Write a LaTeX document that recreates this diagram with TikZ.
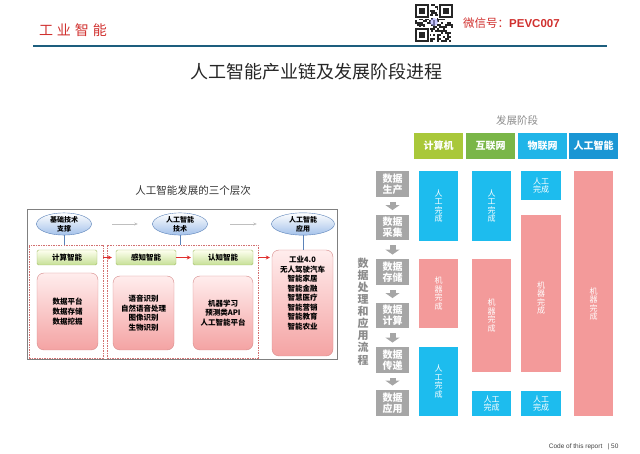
\documentclass[tikz,border=0pt]{standalone}
\usepackage{fontspec}
\setmainfont{Noto Sans CJK SC}
\newfontfamily\latinfont{Liberation Sans}
\usetikzlibrary{arrows.meta,shapes.geometric}

\definecolor{brandred}{HTML}{D0302E}
\definecolor{ruleteal}{HTML}{1D5E7E}
\definecolor{bubbleline}{HTML}{5B82B8}
\definecolor{bubblefill}{HTML}{A3C1EA}
\definecolor{levelline}{HTML}{A3BE68}
\definecolor{levelfill}{HTML}{C6E096}
\definecolor{fieldline}{HTML}{D68A8A}
\definecolor{fieldfill}{HTML}{F4A3A3}
\definecolor{groupline}{HTML}{D27070}
\definecolor{arrowred}{HTML}{E0302E}
\definecolor{flowgray}{HTML}{A6A6A6}
\definecolor{humanblue}{HTML}{1DBCEE}
\definecolor{machinepink}{HTML}{F39A9A}
\definecolor{stagelime}{HTML}{A9C83A}
\definecolor{stagegreen}{HTML}{7AB648}
\definecolor{stagecyan}{HTML}{20B5E8}
\definecolor{stageblue}{HTML}{1A96D4}

\tikzset{
  bubble/.style={ellipse, draw=bubbleline, top color=white, bottom color=bubblefill,
    minimum width=55pt, minimum height=22pt, inner sep=0pt, align=center,
    font=\fontsize{7}{9}\selectfont\bfseries},
  levelbox/.style={draw=levelline, top color=green!4!yellow!6, bottom color=levelfill,
    rounded corners=1.5pt, minimum width=60pt, minimum height=15pt, inner sep=0pt,
    font=\fontsize{7.5}{9}\selectfont\bfseries},
  fieldbox/.style={draw=fieldline, top color=red!7, bottom color=fieldfill,
    rounded corners=7pt, minimum width=61pt, inner sep=0pt, align=center,
    font=\fontsize{7.5}{9.7}\selectfont\bfseries},
  groupbox/.style={draw=groupline, dash pattern=on 1.5pt off 1pt, line width=0.5pt},
  stemline/.style={draw=bubbleline, line width=0.7pt},
  redarrow/.style={draw=arrowred, line width=0.9pt, -{Stealth[length=4pt,width=4pt]}},
  greyarrow/.style={draw=gray!50, line width=0.6pt, -{Stealth[length=3.5pt,width=3pt]}},
  stagehead/.style={minimum width=49pt, minimum height=26pt, inner sep=0pt, text=white,
    font=\fontsize{10}{11}\selectfont\bfseries},
  flowbox/.style={fill=flowgray, text=white, minimum width=33pt, minimum height=25.5pt,
    inner sep=0pt, align=center, font=\fontsize{10}{11}\selectfont\bfseries},
  flowarrow/.style={draw=flowgray, line width=6pt, -{Triangle[width=14pt,length=5pt]},
    shorten <=5pt, shorten >=4.5pt},
  humanbox/.style={fill=humanblue, text=white, minimum width=39.5pt, inner sep=0pt,
    align=center, font=\fontsize{8}{8.6}\selectfont},
  machinebox/.style={fill=machinepink, text=white, minimum width=39.5pt, inner sep=0pt,
    align=center, font=\fontsize{8}{8.6}\selectfont}
}

\begin{document}
\begin{tikzpicture}[x=1pt, y=-1pt]
  \useasboundingbox (0,0) rectangle (640,454);

  % Page header
  \node[text=brandred, font=\fontsize{14}{14}\selectfont] (brand) at (73,30)
    {工\hspace{4pt}业\hspace{4pt}智\hspace{4pt}能};
  \node[anchor=west, inner sep=0pt, text=brandred, font=\fontsize{11.5}{12}\selectfont] (wechat) at (463,23)
    {微信号：{\latinfont\bfseries PEVC007}};
  \draw[ruleteal, line width=2pt] (33,46) -- (607,46);

  % QR code
  \pgfmathsetseed{42}
  \foreach \i in {0,...,18}{
    \foreach \j in {0,...,18}{
      \pgfmathrandominteger{\qrbit}{0}{1}
      \ifnum\qrbit=1 \fill[black!85] (415+2*\i,4+2*\j) rectangle ++(2,2); \fi
    }
  }
  \foreach \qx/\qy in {415/4, 439/4, 415/28}{
    \fill[white] (\qx-1,\qy-1) rectangle ++(16,16);
    \fill[black!85] (\qx,\qy) rectangle ++(14,14);
    \fill[white] (\qx+2,\qy+2) rectangle ++(10,10);
    \fill[black!85] (\qx+4,\qy+4) rectangle ++(6,6);
  }
  \fill[blue!35, opacity=0.6] (434,22) circle (4);

  % Main title
  \node[text=black!85, font=\fontsize{18}{18}\selectfont] (title) at (316.5,72)
    {人工智能产业链及发展阶段进程};

  % Left panel: three levels
  \node[text=black!80, font=\fontsize{10.5}{11}\selectfont] (lefttitle) at (193,191)
    {人工智能发展的三个层次};
  \draw[black!50, line width=0.9pt] (27,209) rectangle (337,359);

  \node[bubble] (basis) at (64,224) {基础技术\\支撑};
  \node[bubble] (tech) at (180,224) {人工智能\\技术};
  \node[bubble, minimum width=63pt] (use) at (303,224) {人工智能\\应用};
  \draw[greyarrow, shorten <=20.5pt, shorten >=14.5pt] (basis) -- (tech);
  \draw[greyarrow, shorten <=22.5pt, shorten >=14.5pt] (tech) -- (use);

  \node[groupbox, minimum width=74pt, minimum height=113pt] (group1) at (66,301.5) {};
  \node[groupbox, minimum width=151pt, minimum height=113pt] (group2) at (182.5,301.5) {};

  \node[levelbox] (calc) at (67,257.5) {计算智能};
  \node[levelbox] (sense) at (146,257.5) {感知智能};
  \node[levelbox] (cognize) at (223,257.5) {认知智能};

  \node[fieldbox, minimum height=77pt] (datafield) at (67.5,311.5) {数据平台\\数据存储\\数据挖掘};
  \node[fieldbox, minimum height=74pt] (sensefield) at (143.5,313) {语音识别\\自然语音处理\\图像识别\\生物识别};
  \node[fieldbox, minimum width=60pt, minimum height=74pt] (cogfield) at (223,313) {机器学习\\预测类API\\人工智能平台};
  \node[fieldbox, minimum height=106pt] (apps) at (302.5,303) {};
  \node[align=center, font=\fontsize{7.5}{9.5}\selectfont\bfseries] (appstext) at (302.5,293)
    {工业4.0\\无人驾驶汽车\\智能家居\\智能金融\\智慧医疗\\智能营销\\智能教育\\智能农业};

  \draw[stemline] (basis) -- (basis |- group1.north);
  \draw[stemline] (tech) -- (tech |- group2.north);
  \draw[stemline] (use) -- (use |- apps.north);

  \draw[redarrow, shorten >=4pt] (group1.east |- calc) -- (sense.west);
  \draw[redarrow, shorten >=2pt] (sense) -- (cognize);
  \draw[redarrow, shorten >=2pt] (group2.east |- cognize) -- (apps.west |- cognize);

  % Right panel: stages
  \node[text=black!45, font=\fontsize{10.5}{11}\selectfont] (stagetitle) at (517,121) {发展阶段};
  \node[stagehead, fill=stagelime] (computer) at (438.5,146) {计算机};
  \node[stagehead, fill=stagegreen] (internet) at (490.5,146) {互联网};
  \node[stagehead, fill=stagecyan] (iot) at (542.5,146) {物联网};
  \node[stagehead, fill=stageblue] (ai) at (593.5,146) {人工智能};

  % Data flow steps
  \node[flowbox] (produce) at (392.5,184) {数据\\生产};
  \node[flowbox] (collect) at (392.5,227.5) {数据\\采集};
  \node[flowbox] (store) at (392.5,272) {数据\\存储};
  \node[flowbox] (compute) at (392.5,315.5) {数据\\计算};
  \node[flowbox] (transfer) at (392.5,360) {数据\\传递};
  \node[flowbox] (apply) at (392.5,403) {数据\\应用};
  \draw[flowarrow] (produce) -- (collect);
  \draw[flowarrow] (collect) -- (store);
  \draw[flowarrow] (store) -- (compute);
  \draw[flowarrow] (compute) -- (transfer);
  \draw[flowarrow] (transfer) -- (apply);

  \node[text=black!45, align=center, font=\fontsize{11}{12.1}\selectfont\bfseries] (flowlabel) at (363,311.5)
    {数\\据\\处\\理\\和\\应\\用\\流\\程};

  % Human / machine columns
  \node[humanbox, minimum height=70pt] (comptop) at (438.5,206) {人\\工\\完\\成};
  \node[machinebox, minimum height=69pt] (compmid) at (438.5,293.5) {机\\器\\完\\成};
  \node[humanbox, minimum height=69pt] (compbot) at (438.5,381.5) {人\\工\\完\\成};

  \node[humanbox, minimum height=70pt] (nettop) at (491.5,206) {人\\工\\完\\成};
  \node[machinebox, minimum height=113pt] (netmid) at (491.5,315.5) {机\\器\\完\\成};
  \node[humanbox, minimum height=25pt] (netbot) at (491.5,403.5) {人工\\完成};

  \node[humanbox, minimum height=29pt] (iottop) at (541,185.5) {人工\\完成};
  \node[machinebox, minimum height=157pt] (iotmid) at (541,293.5) {};
  \node[text=white, align=center, font=\fontsize{8}{8.6}\selectfont] (iottext) at (541,298) {机\\器\\完\\成};
  \node[humanbox, minimum height=25pt] (iotbot) at (541,403.5) {人工\\完成};

  \node[machinebox, minimum height=245pt] (aicol) at (593.5,293.5) {};
  \node[text=white, align=center, font=\fontsize{8}{8.6}\selectfont] (aitext) at (593.5,304) {机\\器\\完\\成};

  % Footer
  \node[anchor=east, text=black!75, font=\latinfont\fontsize{6.5}{7}\selectfont] (footer) at (622,447)
    {Code of this report \ \ | 50};
\end{tikzpicture}
\end{document}
